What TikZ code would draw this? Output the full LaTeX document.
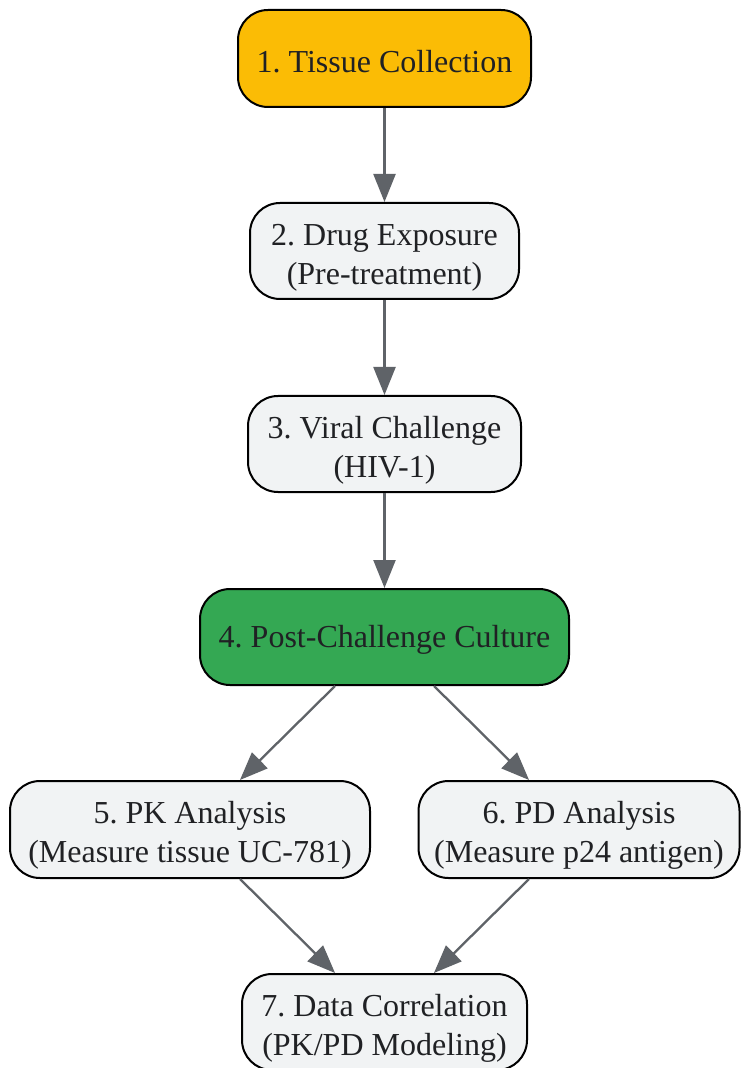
\documentclass[tikz,border=0pt]{standalone}
\usepackage{fontspec}
\setmainfont{Liberation Serif}
\usetikzlibrary{arrows.meta}
\definecolor{tissue}{HTML}{FBBC05}
\definecolor{culture}{HTML}{34A853}
\definecolor{stepgray}{HTML}{F1F3F4}
\definecolor{inkgray}{HTML}{202124}
\definecolor{linkgray}{HTML}{5F6368}
\newcommand{\oneline}[1]{\raisebox{-1.5pt}[\height][\depth]{#1}}
\newcommand{\twoline}[2]{\raisebox{-3pt}[\height][\depth]{\begin{tabular}{@{}c@{}}#1\\#2\end{tabular}}}
\tikzset{
	box/.style={draw=black, line width=1pt, rounded corners=15pt, fill=stepgray,
		text=inkgray, align=center, inner sep=2pt,
		font=\fontsize{16}{19.5}\selectfont\frenchspacing},
	link/.style={draw=linkgray, line width=1.15pt, -{Triangle[length=14pt,width=11pt]}}
}
\begin{document}
\begin{tikzpicture}[x=0.5pt, y=-0.5pt]
			\useasboundingbox (0,0) rectangle (741,1068);
			\node	(t1) at (384.5,58.5) [box, fill=tissue, minimum width=146.5pt, minimum height=48.5pt] {\oneline{1. Tissue Collection}};
			\node	(t2) at (384.5,251) [box, minimum width=134.5pt, minimum height=48pt] {\twoline{2. Drug Exposure}{(Pre-treatment)}};
			\node	(t3) at (384.5,444) [box, minimum width=136.5pt, minimum height=48pt] {\twoline{3. Viral Challenge}{(HIV-1)}};
			\node	(t4) at (384.5,637) [box, fill=culture, minimum width=184.5pt, minimum height=48pt] {\oneline{4. Post-Challenge Culture}};
			\node	(t5) at (190,829.5) [box, minimum width=180pt, minimum height=48.5pt] {\twoline{5. PK Analysis}{(Measure tissue UC-781)}};
			\node	(t6) at (579,829.5) [box, minimum width=160.5pt, minimum height=48.5pt] {\twoline{6. PD Analysis}{(Measure p24 antigen)}};
			\node	(t7) at (384.5,1022) [box, minimum width=142.5pt, minimum height=48pt] {\twoline{7. Data Correlation}{(PK/PD Modeling)}};
			
			\draw 
			(t1) edge[link] (t2)
			(t2) edge[link] (t3)
			(t3) edge[link] (t4)
			(t4) edge[link] (t5)
			(t4) edge[link] (t6)
			(t5) edge[link] (t7)
			(t6) edge[link] (t7)
			;
		\end{tikzpicture}
\end{document}
